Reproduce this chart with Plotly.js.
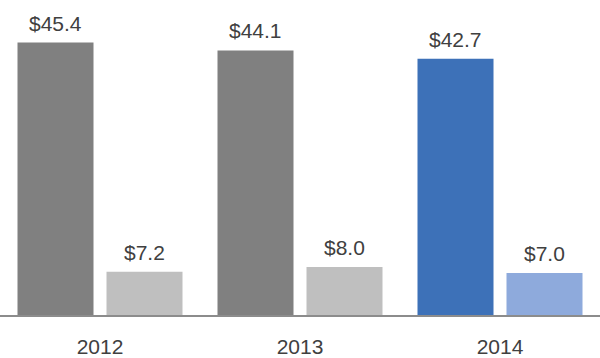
<!DOCTYPE html>
<html><head><meta charset="utf-8">
<script src="https://cdn.plot.ly/plotly-3.0.1.min.js"></script>
<style>html,body{margin:0;padding:0;background:#fff}#chart{width:600px;height:358px}</style>
</head><body><div id="chart"></div>
<script>
var years = ['2012', '2013', '2014'];
var seriesA = [45.4, 44.1, 42.7];
var seriesB = [7.2, 8.0, 7.0];
var colorsA = ['#808080', '#808080', '#3d71b8'];
var colorsB = ['#bfbfbf', '#bfbfbf', '#8eaadc'];

function fmt(v){ return '$' + v.toFixed(1); }

var traces = [
  {type:'bar', x:years, y:seriesA, marker:{color:colorsA}, hoverinfo:'none'},
  {type:'bar', x:years, y:seriesB, marker:{color:colorsB}, hoverinfo:'none'}
];

var annotations = [];
var shift = 44.5;
var labelFont = {family:'Liberation Sans, Arial, sans-serif', size:21, color:'#404040'};
years.forEach(function(yr, i){
  annotations.push({x:i, y:seriesA[i], xref:'x', yref:'y', text:fmt(seriesA[i]), showarrow:false,
    xanchor:'center', yanchor:'bottom', xshift:-shift, yshift:6, font:labelFont});
  annotations.push({x:i, y:seriesB[i], xref:'x', yref:'y', text:fmt(seriesB[i]), showarrow:false,
    xanchor:'center', yanchor:'bottom', xshift:shift, yshift:6, font:labelFont});
});

var layout = {
  width:600, height:358,
  margin:{l:0, r:0, t:0, b:43},
  showlegend:false,
  barmode:'group',
  bargap:0.11,
  bargroupgap:0.146,
  paper_bgcolor:'#ffffff', plot_bgcolor:'#ffffff',
  xaxis:{type:'category', range:[-0.5, 2.5], showline:true, linecolor:'#8c8c8c', linewidth:1.5, showgrid:false, zeroline:false,
    ticks:'outside', ticklen:12, tickcolor:'rgba(0,0,0,0)',
    tickfont:{family:'Liberation Sans, Arial, sans-serif', size:21, color:'#404040'}},
  yaxis:{range:[0, 52.5], visible:false, showgrid:false, zeroline:false, fixedrange:true},
  annotations:annotations
};

Plotly.newPlot('chart', traces, layout, {staticPlot:true, displayModeBar:false});
</script></body></html>
